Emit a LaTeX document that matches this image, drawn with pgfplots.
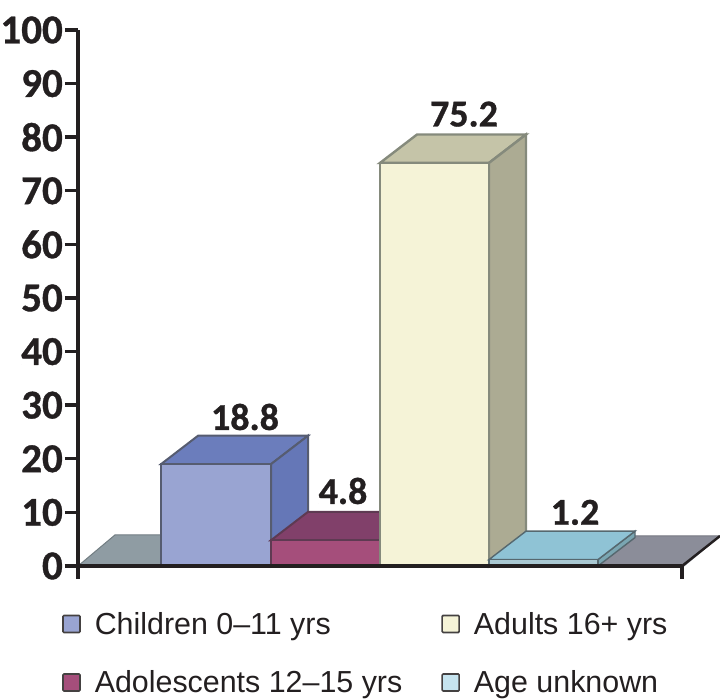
\documentclass[border=0pt]{standalone}
\usepackage{fontspec}
\setmainfont{Liberation Sans}
\newfontfamily\numfont[BoldFeatures={FakeBold=0.8}]{Carlito}
\usepackage{pgfplots}
\pgfplotsset{compat=1.18}
\definecolor{axisBlack}{HTML}{231F20}
\definecolor{floorL}{HTML}{8F9CA3}
\definecolor{floorR}{HTML}{8B8D99}
\definecolor{edgeA}{HTML}{565C70}
\definecolor{frontA}{HTML}{99A4D2}
\definecolor{topA}{HTML}{6B7DBC}
\definecolor{sideA}{HTML}{6577B7}
\definecolor{edgeB}{HTML}{5E3A52}
\definecolor{frontB}{HTML}{A54E7B}
\definecolor{topB}{HTML}{81406A}
\definecolor{edgeC}{HTML}{858A7C}
\definecolor{frontC}{HTML}{F5F3D7}
\definecolor{topC}{HTML}{C5C4A8}
\definecolor{sideC}{HTML}{ACAB93}
\definecolor{edgeD}{HTML}{56686F}
\definecolor{frontD}{HTML}{A9C8D2}
\definecolor{topD}{HTML}{8FC3D5}
\definecolor{sideD}{HTML}{7AA6B2}
\definecolor{swatchD}{HTML}{C6E4EF}
\pgfplotsset{
  swatch/.style={legend image code/.code={
    \draw[fill=#1,draw=axisBlack!85,line width=1.6pt,rounded corners=1pt] (0pt,-8.5pt) rectangle (17pt,8.5pt);
  }},
}

\begin{document}
\begin{tikzpicture}
  \useasboundingbox (-78pt,-134pt) rectangle (642pt,566pt);
  \begin{axis}[
    scale only axis,
    width=604pt,
    height=536pt,
    xmin=78,xmax=682,
    ymin=0,ymax=100,
    clip=false,
    axis on top,
    axis x line=bottom,
    axis y line=left,
    axis line style={-,line width=3.4pt,draw=axisBlack},
    tick style={line width=3.4pt,draw=axisBlack},
    major tick length=13pt,
    tick align=outside,
    xtick={78,682},
    xticklabels={,},
    ytick={0,10,...,100},
    yticklabel style={font=\numfont\bfseries\fontsize{41}{41}\selectfont,text=axisBlack,inner sep=2pt},
    /pgf/number format/assume math mode=true,
    legend columns=2,
    transpose legend,
    legend cell align=left,
    legend style={
      at={(-19pt,-42pt)},anchor=north west,
      draw=none,fill=none,
      font=\fontsize{30.4}{30.4}\selectfont,
      text=axisBlack,
      row sep=31pt,
      /tikz/every odd column/.append style={column sep=12pt},
      /tikz/every even column/.append style={column sep=37pt},
    },
  ]
    % floor
    \addplot[forget plot,fill=floorL,draw=floorL!80!black,line width=1pt] coordinates {(78,0) (115,5.8) (200,5.8) (200,0)} --cycle;
    \addplot[forget plot,fill=floorR,draw=floorR!85!black,line width=1pt] coordinates {(590,0) (625,5.6) (720,5.6) (684,0)} --cycle;
    \addplot[forget plot,draw=axisBlack,line width=2.4pt] coordinates {(682,0) (720,5.6)};

    % children
    \addplot[forget plot,fill=topA,draw=edgeA,line width=2pt] coordinates {(161,19) (198,24.3) (308,24.3) (271,19)} --cycle;
    \addplot[forget plot,fill=sideA,draw=edgeA,line width=2pt] coordinates {(271,0) (308,5.3) (308,24.3) (271,19)} --cycle;
    \addplot[swatch=frontA,fill=frontA,draw=edgeA,line width=2pt] coordinates {(161,0) (161,19) (271,19) (271,0)} --cycle;
    \addlegendentry{Children 0--11 yrs}

    % adolescents
    \addplot[forget plot,fill=topB,draw=edgeB,line width=2pt] coordinates {(271,4.8) (308,10.1) (417,10.1) (380,4.8)} --cycle;
    \addplot[swatch=frontB,fill=frontB,draw=edgeB,line width=2pt] coordinates {(271,0) (271,4.8) (380,4.8) (380,0)} --cycle;
    \addlegendentry{Adolescents 12--15 yrs}

    % adults
    \addplot[forget plot,fill=topC,draw=edgeC,line width=2.4pt] coordinates {(380,75.2) (417,80.5) (526,80.5) (489,75.2)} --cycle;
    \addplot[forget plot,fill=sideC,draw=edgeC,line width=2.4pt] coordinates {(489,0) (526,5.3) (526,80.5) (489,75.2)} --cycle;
    \addplot[swatch=frontC,fill=frontC,draw=edgeC,line width=2.4pt] coordinates {(380,0) (380,75.2) (489,75.2) (489,0)} --cycle;
    \addlegendentry{Adults 16+ yrs}

    % unknown
    \addplot[forget plot,fill=sideD,draw=edgeD,line width=1.4pt] coordinates {(598,0) (635,5.3) (635,6.5) (598,1.2)} --cycle;
    \addplot[forget plot,fill=topD,draw=edgeD,line width=1.4pt] coordinates {(489,1.2) (526,6.5) (635,6.5) (598,1.2)} --cycle;
    \addplot[swatch=swatchD,fill=frontD,draw=edgeD,line width=1.4pt] coordinates {(489,0) (489,1.2) (598,1.2) (598,0)} --cycle;
    \addlegendentry{Age unknown}

    \node[font=\numfont\bfseries\fontsize{38}{38}\selectfont,text=axisBlack] at (axis cs:245,27.8) {18.8};
    \node[font=\numfont\bfseries\fontsize{38}{38}\selectfont,text=axisBlack] at (axis cs:343,14) {4.8};
    \node[font=\numfont\bfseries\fontsize{38}{38}\selectfont,text=axisBlack] at (axis cs:464,84.3) {75.2};
    \node[font=\numfont\bfseries\fontsize{38}{38}\selectfont,text=axisBlack] at (axis cs:575,10) {1.2};
  \end{axis}
\end{tikzpicture}
\end{document}
